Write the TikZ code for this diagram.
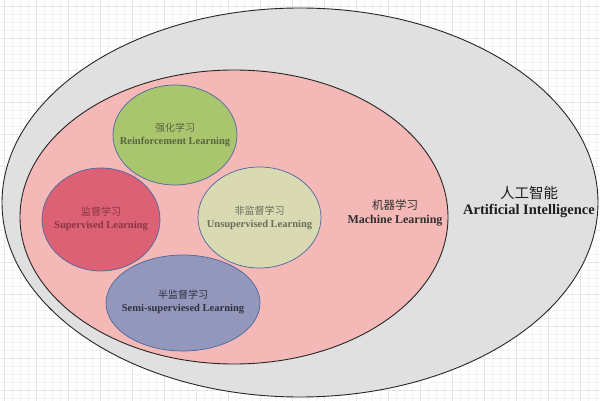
\documentclass[tikz,border=0pt]{standalone}
\usepackage{fontspec}
\setmainfont{Liberation Serif}
\newfontfamily\cjk{Noto Sans CJK SC}
\definecolor{gridminor}{HTML}{F2F2F2}
\definecolor{gridmajor}{HTML}{E6E6E6}
\definecolor{aifill}{HTML}{E0E0E0}
\definecolor{mlfill}{HTML}{F4B8B6}
\definecolor{rlfill}{HTML}{A9C66F}
\definecolor{slfill}{HTML}{DC6175}
\definecolor{ulfill}{HTML}{D9DAB2}
\definecolor{ssfill}{HTML}{9497BC}
\definecolor{subline}{HTML}{4A68A0}
\definecolor{rltext}{HTML}{56653F}
\definecolor{sltext}{HTML}{8A3444}
\definecolor{ultext}{HTML}{6C6C5C}
\definecolor{sstext}{HTML}{30303C}
\definecolor{mltext}{HTML}{303030}
\definecolor{aitext}{HTML}{1E1E1E}
\tikzset{
  bigell/.style={ellipse, draw=black!85, line width=0.9pt, inner sep=0pt},
  subell/.style={ellipse, draw=subline, line width=0.7pt, inner sep=0pt},
  lbl/.style={align=center, inner sep=0pt},
}
\usetikzlibrary{shapes.geometric}
\begin{document}
\begin{tikzpicture}[x=1pt,y=-1pt]
\useasboundingbox (0,0) rectangle (600,401);
\fill[white] (0,0) rectangle (600,401);
\foreach \i in {0,...,75} {\draw[gridminor, line width=0.6pt] (4+8*\i,0) -- (4+8*\i,401);}
\foreach \i in {0,...,50} {\draw[gridminor, line width=0.6pt] (0,6+8*\i) -- (600,6+8*\i);}
\foreach \i in {0,...,18} {\draw[gridmajor, line width=0.8pt] (4+32*\i,0) -- (4+32*\i,401);}
\foreach \i in {0,...,12} {\draw[gridmajor, line width=0.8pt] (0,6+32*\i) -- (600,6+32*\i);}

\node[bigell, fill=aifill, minimum width=596pt, minimum height=389pt] (ai) at (300,202.5) {};
\node[bigell, fill=mlfill, minimum width=428pt, minimum height=294pt] (ml) at (234,217) {};
\node[subell, fill=rlfill, minimum width=124pt, minimum height=100pt] (rl) at (175,135) {};
\node[subell, fill=slfill, minimum width=118pt, minimum height=103pt] (sl) at (101,219.5) {};
\node[subell, fill=ulfill, minimum width=123pt, minimum height=101pt] (ul) at (259.5,217.5) {};
\node[subell, fill=ssfill, minimum width=154pt, minimum height=96pt] (ss) at (183,303) {};

\node[lbl, text=rltext] (rlt) at (175,135) {{\cjk\fontsize{10}{12}\selectfont 强化学习}\\[1pt]{\fontsize{10.5}{12}\selectfont\bfseries Reinforcement Learning}};
\node[lbl, text=sltext] (slt) at (101,219) {{\cjk\fontsize{10}{12}\selectfont 监督学习}\\[1pt]{\fontsize{10.5}{12}\selectfont\bfseries Supervised Learning}};
\node[lbl, text=ultext] (ult) at (259.5,217.5) {{\cjk\fontsize{10}{12}\selectfont 非监督学习}\\[1pt]{\fontsize{10.5}{12}\selectfont\bfseries Unsupervised Learning}};
\node[lbl, text=sstext] (sst) at (183,302) {{\cjk\fontsize{10}{12}\selectfont 半监督学习}\\[1pt]{\fontsize{10.5}{12}\selectfont\bfseries Semi-superviesed Learning}};
\node[lbl, text=mltext] (mlt) at (395,213) {{\cjk\fontsize{11.5}{14}\selectfont 机器学习}\\[2pt]{\fontsize{12}{14}\selectfont\bfseries Machine Learning}};
\node[lbl, text=aitext] (ait) at (529,202) {{\cjk\fontsize{14.5}{17}\selectfont 人工智能}\\[4pt]{\fontsize{14.5}{17}\selectfont\bfseries Artificial Intelligence}};
\end{tikzpicture}
\end{document}
